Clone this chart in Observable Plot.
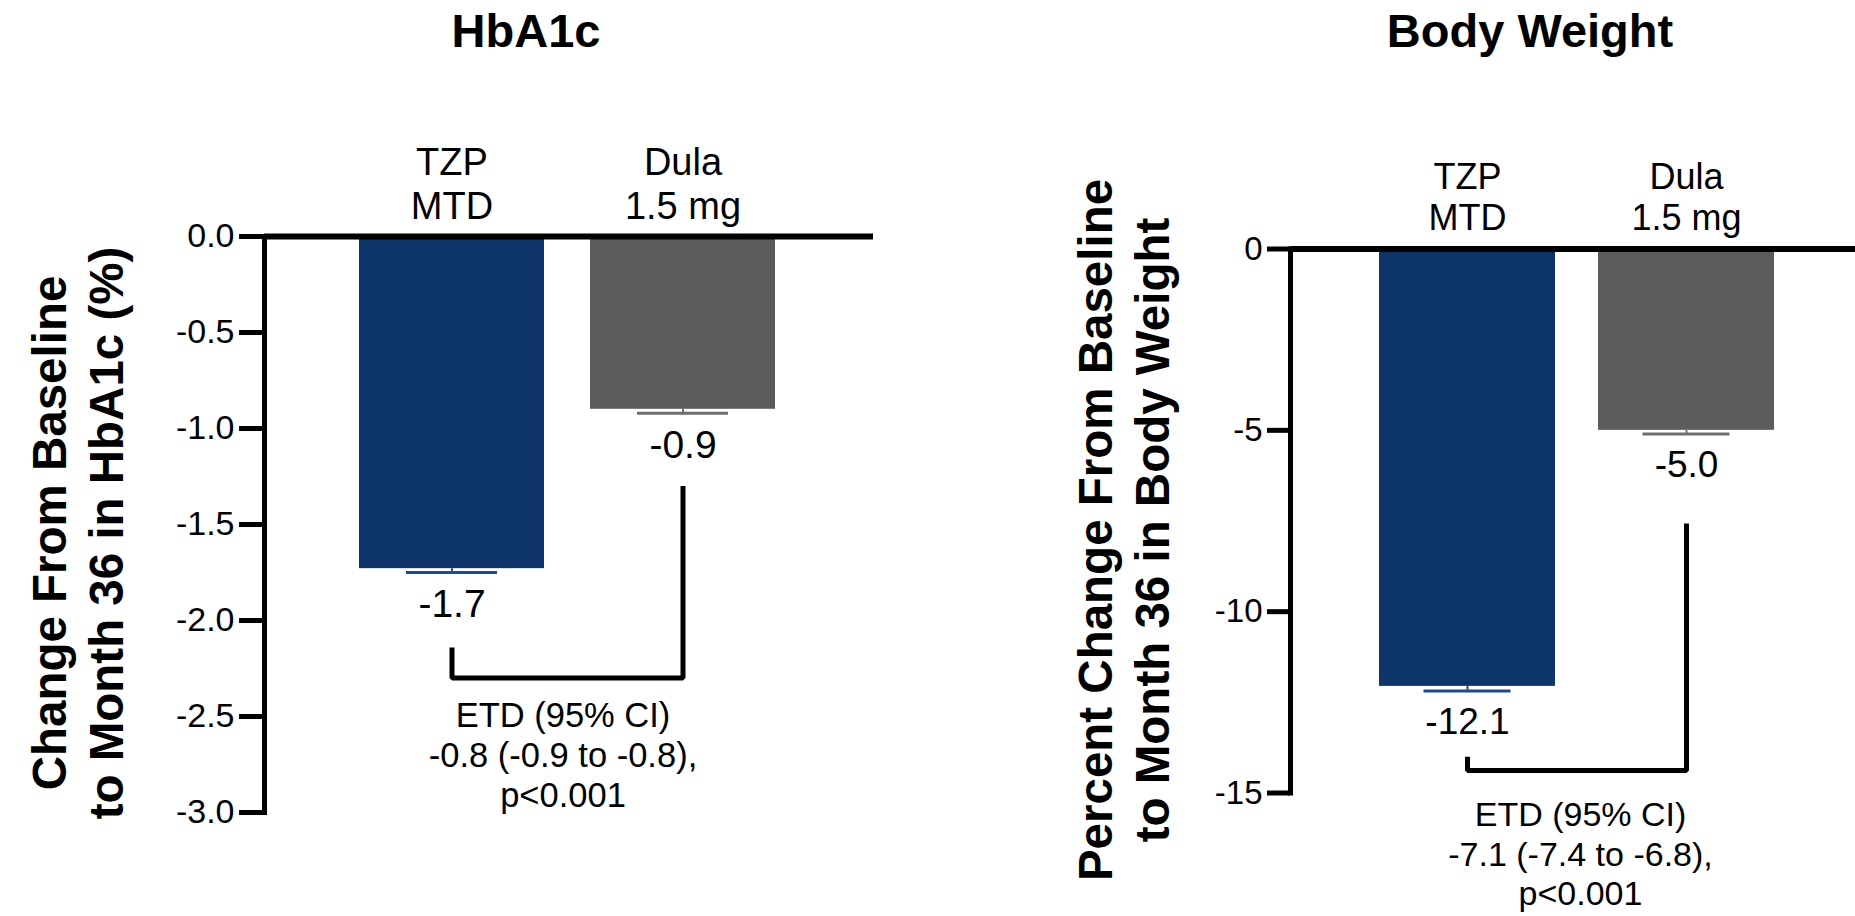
<!DOCTYPE html>
<html><head><meta charset="utf-8">
<script src="https://cdn.jsdelivr.net/npm/d3@7"></script>
<script src="https://cdn.jsdelivr.net/npm/@observablehq/plot@0.6"></script>
<style>
body{margin:0;background:#fff;font-family:"Liberation Sans",Arial,sans-serif;}
#root{position:relative;width:1855px;height:916px;overflow:hidden;background:#fff;}
.panel{position:absolute;top:0;}
.title{position:absolute;top:7px;font-weight:bold;font-size:47px;line-height:1;transform:translateX(-50%);white-space:nowrap;color:#000;}
.ytitle{position:absolute;font-weight:bold;font-size:47.5px;line-height:57px;text-align:center;white-space:nowrap;transform:translate(-50%,-50%) rotate(-90deg);color:#000;}
</style></head><body><div id="root"></div>
<script>
// ---- data ----
const categories = ["TZP MTD", "Dula 1.5 mg"];
const categoryLabels = ["TZP\nMTD", "Dula\n1.5 mg"];
const barColors = ["#0d3569", "#5c5c5c"];
const capColors = ["#1f4b86", "#6e6e6e"];

const hba1cValues = [-1.73, -0.90];
const hba1cErrorLow = [-1.75, -0.92];
const hba1cLabels = ["-1.7", "-0.9"];
const hba1cTicks = [0, -0.5, -1, -1.5, -2, -2.5, -3];
const hba1cBracket = [-2.14, -2.30, -1.30];
const hba1cEtd = "ETD (95% CI)\n-0.8 (-0.9 to -0.8),\np<0.001";

const weightValues = [-12.06, -5.00];
const weightErrorLow = [-12.19, -5.10];
const weightLabels = ["-12.1", "-5.0"];
const weightTicks = [0, -5, -10, -15];
const weightBracket = [-14.0, -14.38, -7.57];
const weightEtd = "ETD (95% CI)\n-7.1 (-7.4 to -6.8),\np<0.001";

const FONT = "Liberation Sans, Arial, Helvetica, sans-serif";

function panel(o) {
  const data = categories.map((c, i) => ({
    cat: c, label: categoryLabels[i], value: o.values[i], low: o.low[i],
    text: o.labels[i], color: barColors[i], cap: capColors[i]
  }));
  const br = o.bracket;
  const bracketPts = [
    {cat: categories[0], y: br[0]}, {cat: categories[0], y: br[1]},
    {cat: categories[1], y: br[1]}, {cat: categories[1], y: br[2]}
  ];
  return Plot.plot({
    width: o.width, height: 916,
    marginLeft: o.ml, marginRight: o.mr, marginTop: o.mt, marginBottom: o.mb,
    style: {fontFamily: FONT, background: "transparent", overflow: "visible", color: "#000"},
    x: {domain: categories, paddingInner: o.pi, paddingOuter: o.po, align: o.align, axis: null},
    y: {domain: [o.min, 0]},
    marks: [
      Plot.barY(data, {x: "cat", y: "value", fill: "color"}),
      Plot.ruleX(data, {x: "cat", y1: "value", y2: "low", stroke: "cap", strokeWidth: 2}),
      Plot.tickY(data, {x: "cat", y: "low", stroke: "cap", strokeWidth: 3, insetLeft: o.capInset, insetRight: o.capInset}),
      Plot.text(data, {x: "cat", y: "low", text: "text", dy: o.valDy, fontSize: o.valSize, fill: "#000"}),
      Plot.text(data, {x: "cat", frameAnchor: "top", text: "label", lineAnchor: "bottom", dy: o.catDy, fontSize: o.catSize, lineHeight: o.catLH, fill: "#000"}),
      Plot.axisY({ticks: o.ticks, tickFormat: o.fmt, tickSize: o.tickLen, tickPadding: 5, fontSize: o.tickFont, strokeWidth: 5, label: null, stroke: "#000", fill: "#000"}),
      Plot.frame({anchor: "left", stroke: "#000", strokeWidth: 5}),
      Plot.ruleY([0], {stroke: "#000", strokeWidth: 6}),
      Plot.line(bracketPts, {x: "cat", y: "y", stroke: "#000", strokeWidth: 5, strokeLinejoin: "miter", strokeLinecap: "butt", curve: "linear"}),
      Plot.text([o.etd], {x: () => categories[0], y: () => br[1], text: d => d, dx: o.etdDx, dy: o.etdDy, lineAnchor: "top", fontSize: o.etdSize, lineHeight: 1.17, fill: "#000"})
    ]
  });
}

const root = document.getElementById("root");

const left = panel({
  width: 927, ml: 264, mr: 54, mt: 236, mb: 104,
  pi: 0.198, po: 0.4116, align: 0.492,
  min: -3, ticks: hba1cTicks, fmt: d => d.toFixed(1),
  values: hba1cValues, low: hba1cErrorLow, labels: hba1cLabels,
  bracket: hba1cBracket, etd: hba1cEtd,
  capInset: 47, valDy: 32, valSize: 39, catDy: -18, catSize: 38, catLH: 1.15,
  tickLen: 25, tickFont: 34, etdDx: 111, etdDy: 20, etdSize: 34.5
});
left.classList.add("panel");
left.style.left = "0px";
root.appendChild(left);

const right = panel({
  width: 928, ml: 363, mr: 0, mt: 248.5, mb: 123.5,
  pi: 0.1955, po: 0.382, align: 0.524,
  min: -15, ticks: weightTicks, fmt: d => String(d),
  values: weightValues, low: weightErrorLow, labels: weightLabels,
  bracket: weightBracket, etd: weightEtd,
  capInset: 44.5, valDy: 31, valSize: 37, catDy: -19, catSize: 36, catLH: 1.15,
  tickLen: 23, tickFont: 33, etdDx: 113, etdDy: 27, etdSize: 34
});
right.classList.add("panel");
right.style.left = "927px";
root.appendChild(right);

function addDiv(cls, html, x, y) {
  const d = document.createElement("div");
  d.className = cls;
  d.innerHTML = html;
  d.style.left = x + "px";
  if (y != null) d.style.top = y + "px";
  root.appendChild(d);
}
addDiv("title", "HbA1c", 526);
addDiv("title", "Body Weight", 1530);
addDiv("ytitle", "Change From Baseline<br>to Month 36 in HbA1c (%)", 78, 533);
addDiv("ytitle", "Percent Change From Baseline<br>to Month 36 in Body Weight", 1124, 530);
</script></body></html>
